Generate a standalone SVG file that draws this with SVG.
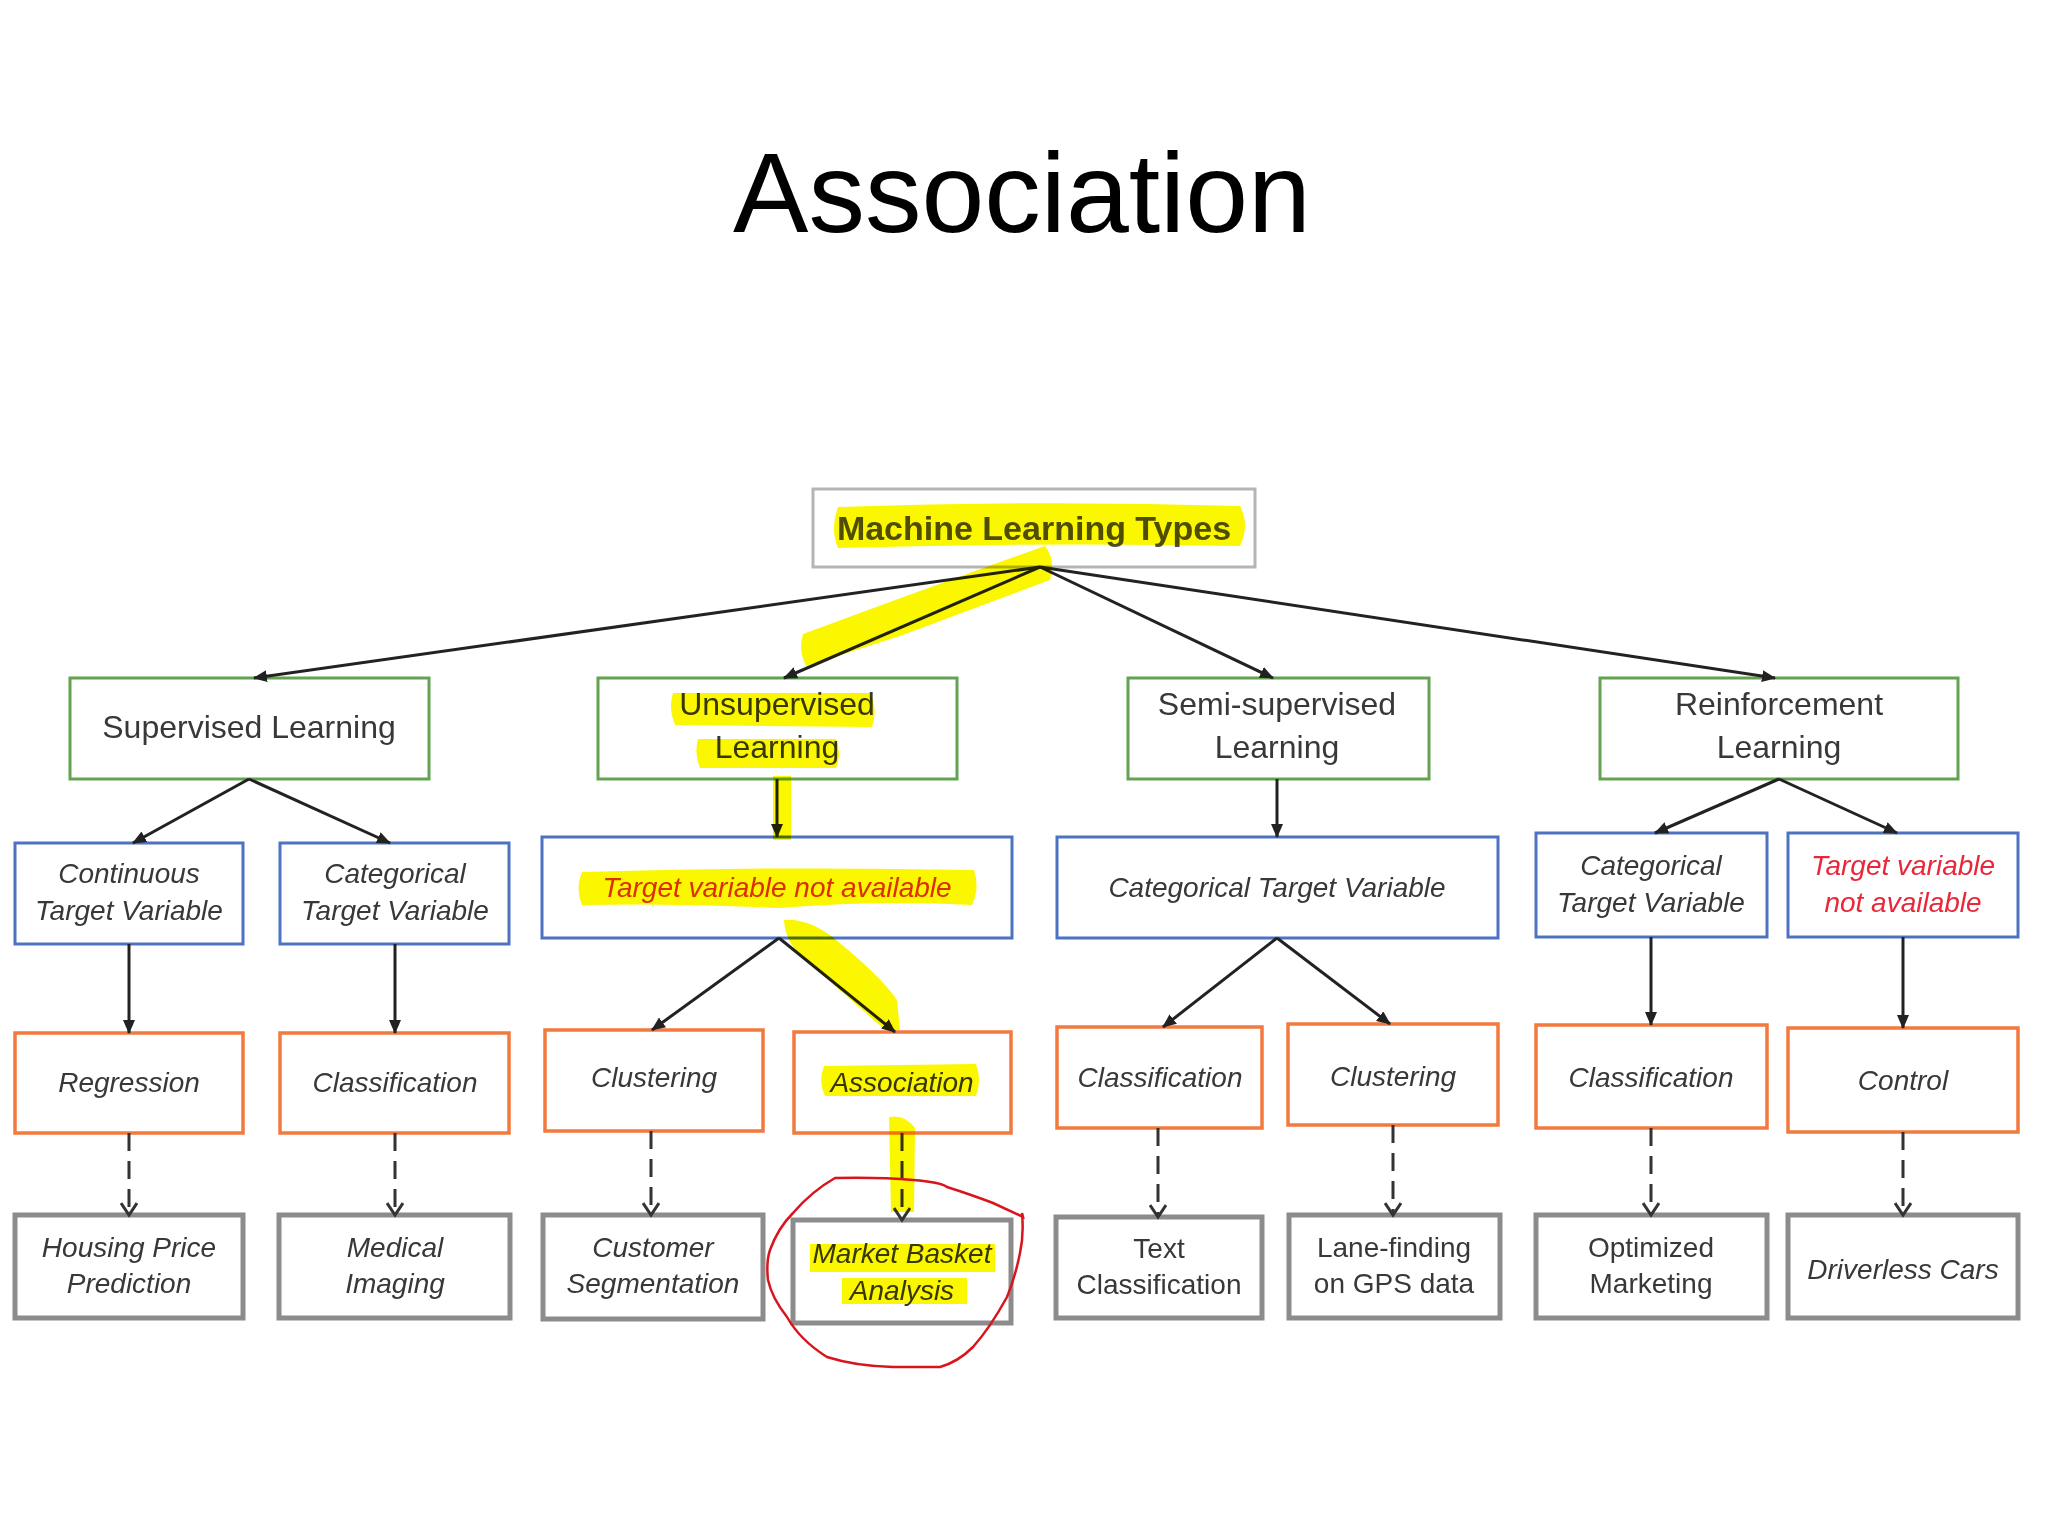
<svg xmlns="http://www.w3.org/2000/svg" width="2048" height="1536" viewBox="0 0 2048 1536">
<style>
.bx{fill:#fff;stroke-width:3}
.g{stroke:#62a251}
.b{stroke:#4d72c0}
.o{stroke:#f27a3f;stroke-width:3.5}
.k{stroke:#8c8c8c;stroke-width:5}
.top{stroke:#b5b5b5}
text{font-family:"Liberation Sans",Arial,sans-serif;fill:#383838;text-anchor:middle}
.t1{font-size:32px}
.t2{font-size:28px;font-style:italic}
.t3{font-size:28px}
.red{fill:#e0301a}
.red2{fill:#e8283a}
.ln{stroke:#222;stroke-width:3;fill:none}
.ds{stroke:#333;stroke-width:3;fill:none;stroke-dasharray:18 10}
.hl{fill:#fbf700;mix-blend-mode:multiply}
</style>
<defs>
<marker id="ah" markerUnits="userSpaceOnUse" markerWidth="14" markerHeight="12" refX="13" refY="6" orient="auto">
<path d="M0,0 L14,6 L0,12 z" fill="#222"/>
</marker>
<marker id="oh" markerUnits="userSpaceOnUse" markerWidth="16" markerHeight="18" refX="13" refY="9" orient="auto">
<path d="M1,1 L13,9 L1,17" fill="none" stroke="#333" stroke-width="3"/>
</marker>
</defs>
<rect width="2048" height="1536" fill="#fff"/>
<text x="1022" y="232" style="font-size:113px;fill:#000">Association</text>

<g id="n-mlt"><rect class="bx top" x="813" y="489" width="442" height="78"/><text class="t1" x="1034" y="540" style="font-size:34px;font-weight:bold;fill:#4f4f3c">Machine Learning Types</text></g>

<g id="n-sup"><rect class="bx g" x="70" y="678" width="359" height="101"/><text class="t1" x="249" y="738">Supervised Learning</text></g>
<g id="n-unsup"><rect class="bx g" x="598" y="678" width="359" height="101"/><text class="t1" x="777" y="715">Unsupervised</text><text class="t1" x="777" y="758">Learning</text></g>
<g id="n-semi"><rect class="bx g" x="1128" y="678" width="301" height="101"/><text class="t1" x="1277" y="715">Semi-supervised</text><text class="t1" x="1277" y="758">Learning</text></g>
<g id="n-rl"><rect class="bx g" x="1600" y="678" width="358" height="101"/><text class="t1" x="1779" y="715">Reinforcement</text><text class="t1" x="1779" y="758">Learning</text></g>

<g id="n-cont"><rect class="bx b" x="15" y="843" width="228" height="101"/><text class="t2" x="129" y="883">Continuous</text><text class="t2" x="129" y="920">Target Variable</text></g>
<g id="n-cat1"><rect class="bx b" x="280" y="843" width="229" height="101"/><text class="t2" x="395" y="883">Categorical</text><text class="t2" x="395" y="920">Target Variable</text></g>
<g id="n-tna"><rect class="bx b" x="542" y="837" width="470" height="101"/><text class="t2 red" x="777" y="897">Target variable not available</text></g>
<g id="n-cat2"><rect class="bx b" x="1057" y="837" width="441" height="101"/><text class="t2" x="1277" y="897">Categorical Target Variable</text></g>
<g id="n-cat3"><rect class="bx b" x="1536" y="833" width="231" height="104"/><text class="t2" x="1651" y="875">Categorical</text><text class="t2" x="1651" y="912">Target Variable</text></g>
<g id="n-tna2"><rect class="bx b" x="1788" y="833" width="230" height="104"/><text class="t2 red2" x="1903" y="875">Target variable</text><text class="t2 red2" x="1903" y="912">not available</text></g>

<g id="n-reg"><rect class="bx o" x="15" y="1033" width="228" height="100"/><text class="t2" x="129" y="1092">Regression</text></g>
<g id="n-cls1"><rect class="bx o" x="280" y="1033" width="229" height="100"/><text class="t2" x="395" y="1092">Classification</text></g>
<g id="n-clu1"><rect class="bx o" x="545" y="1030" width="218" height="101"/><text class="t2" x="654" y="1087">Clustering</text></g>
<g id="n-assoc"><rect class="bx o" x="794" y="1032" width="217" height="101"/><text class="t2" x="902" y="1092">Association</text></g>
<g id="n-cls2"><rect class="bx o" x="1057" y="1027" width="205" height="101"/><text class="t2" x="1160" y="1087">Classification</text></g>
<g id="n-clu2"><rect class="bx o" x="1288" y="1024" width="210" height="101"/><text class="t2" x="1393" y="1086">Clustering</text></g>
<g id="n-cls3"><rect class="bx o" x="1536" y="1025" width="231" height="103"/><text class="t2" x="1651" y="1087">Classification</text></g>
<g id="n-ctrl"><rect class="bx o" x="1788" y="1028" width="230" height="104"/><text class="t2" x="1903" y="1090">Control</text></g>

<g id="n-house"><rect class="bx k" x="15" y="1215" width="228" height="103"/><text class="t2" x="129" y="1257">Housing Price</text><text class="t2" x="129" y="1293">Prediction</text></g>
<g id="n-med"><rect class="bx k" x="279" y="1215" width="231" height="103"/><text class="t2" x="395" y="1257">Medical</text><text class="t2" x="395" y="1293">Imaging</text></g>
<g id="n-cust"><rect class="bx k" x="543" y="1215" width="220" height="104"/><text class="t2" x="653" y="1257">Customer</text><text class="t2" x="653" y="1293">Segmentation</text></g>
<g id="n-mba"><rect class="bx k" x="793" y="1220" width="218" height="103"/><text class="t2" x="902" y="1263">Market Basket</text><text class="t2" x="902" y="1300">Analysis</text></g>
<g id="n-text"><rect class="bx k" x="1056" y="1217" width="206" height="101"/><text class="t3" x="1159" y="1258">Text</text><text class="t3" x="1159" y="1294">Classification</text></g>
<g id="n-lane"><rect class="bx k" x="1289" y="1215" width="211" height="103"/><text class="t3" x="1394" y="1257">Lane-finding</text><text class="t3" x="1394" y="1293">on GPS data</text></g>
<g id="n-opt"><rect class="bx k" x="1536" y="1215" width="231" height="103"/><text class="t3" x="1651" y="1257">Optimized</text><text class="t3" x="1651" y="1293">Marketing</text></g>
<g id="n-drv"><rect class="bx k" x="1788" y="1215" width="230" height="103"/><text class="t2" x="1903" y="1279">Driverless Cars</text></g>

<g id="connectors">
<line class="ln" x1="1040" y1="567" x2="254" y2="678" marker-end="url(#ah)"/>
<line class="ln" x1="1040" y1="567" x2="784" y2="678" marker-end="url(#ah)"/>
<line class="ln" x1="1040" y1="567" x2="1273" y2="678" marker-end="url(#ah)"/>
<line class="ln" x1="1040" y1="567" x2="1775" y2="678" marker-end="url(#ah)"/>
<line class="ln" x1="249" y1="779" x2="133" y2="843" marker-end="url(#ah)"/>
<line class="ln" x1="249" y1="779" x2="390" y2="843" marker-end="url(#ah)"/>
<line class="ln" x1="777" y1="779" x2="777" y2="837" marker-end="url(#ah)"/>
<line class="ln" x1="1277" y1="779" x2="1277" y2="837" marker-end="url(#ah)"/>
<line class="ln" x1="1779" y1="779" x2="1655" y2="833" marker-end="url(#ah)"/>
<line class="ln" x1="1779" y1="779" x2="1897" y2="833" marker-end="url(#ah)"/>
<line class="ln" x1="129" y1="944" x2="129" y2="1033" marker-end="url(#ah)"/>
<line class="ln" x1="395" y1="944" x2="395" y2="1033" marker-end="url(#ah)"/>
<line class="ln" x1="779" y1="938" x2="652" y2="1030" marker-end="url(#ah)"/>
<line class="ln" x1="779" y1="938" x2="895" y2="1032" marker-end="url(#ah)"/>
<line class="ln" x1="1277" y1="938" x2="1163" y2="1027" marker-end="url(#ah)"/>
<line class="ln" x1="1277" y1="938" x2="1390" y2="1024" marker-end="url(#ah)"/>
<line class="ln" x1="1651" y1="937" x2="1651" y2="1025" marker-end="url(#ah)"/>
<line class="ln" x1="1903" y1="937" x2="1903" y2="1028" marker-end="url(#ah)"/>
<line class="ds" x1="129" y1="1133" x2="129" y2="1215" marker-end="url(#oh)"/>
<line class="ds" x1="395" y1="1133" x2="395" y2="1215" marker-end="url(#oh)"/>
<line class="ds" x1="651" y1="1131" x2="651" y2="1215" marker-end="url(#oh)"/>
<line class="ds" x1="902" y1="1133" x2="902" y2="1220" marker-end="url(#oh)"/>
<line class="ds" x1="1158" y1="1128" x2="1158" y2="1217" marker-end="url(#oh)"/>
<line class="ds" x1="1393" y1="1125" x2="1393" y2="1215" marker-end="url(#oh)"/>
<line class="ds" x1="1651" y1="1128" x2="1651" y2="1215" marker-end="url(#oh)"/>
<line class="ds" x1="1903" y1="1132" x2="1903" y2="1215" marker-end="url(#oh)"/>
</g>

<g id="highlights">
<path class="hl" d="M838,507 Q1040,500 1240,506 Q1250,525 1240,546 Q1040,542 838,548 Q830,528 838,507 z"/>
<path class="hl" d="M803,634 Q900,598 1000,562 L1045,546 Q1056,560 1050,580 Q980,606 900,636 L806,666 Q798,650 803,634 z"/>
<path class="hl" d="M673,693 L870,693 Q878,710 872,727 L675,725 Q668,708 673,693 z"/>
<path class="hl" d="M698,739 L836,739 Q842,754 836,768 L700,768 Q694,753 698,739 z"/>
<path class="hl" d="M773,776 L791,776 L791,840 L773,840 z"/>
<path class="hl" d="M582,872 Q780,866 974,870 Q980,888 972,905 Q880,900 780,908 Q680,903 582,905 Q575,888 582,872 z"/>
<path class="hl" d="M784,920 Q805,918 830,935 Q880,975 897,1000 L900,1030 L885,1030 Q840,990 800,955 Q785,940 784,920 z"/>
<path class="hl" d="M824,1066 L976,1064 Q982,1080 976,1096 L825,1096 Q818,1081 824,1066 z"/>
<path class="hl" d="M889,1117 Q905,1114 915,1128 L914,1212 L891,1212 z"/>
<path class="hl" d="M810,1244 L995,1244 L995,1272 L810,1272 z"/>
<path class="hl" d="M842,1278 L967,1278 L967,1304 L842,1304 z"/>
</g>

<path id="circle" d="M835,1178 Q880,1177 913,1180 Q940,1182 947,1187 Q972,1195 993,1203 L1023,1217 L1022,1213 Q1024,1235 1020,1253 Q1015,1278 1007,1297 Q990,1328 973,1347 Q958,1362 940,1367 L893,1367 Q855,1366 827,1357 Q800,1340 787,1317 Q772,1298 768,1280 Q766,1262 770,1250 Q778,1228 793,1213 Q812,1191 835,1178 z" fill="none" stroke="#d8141c" stroke-width="2.5"/>
</svg>
